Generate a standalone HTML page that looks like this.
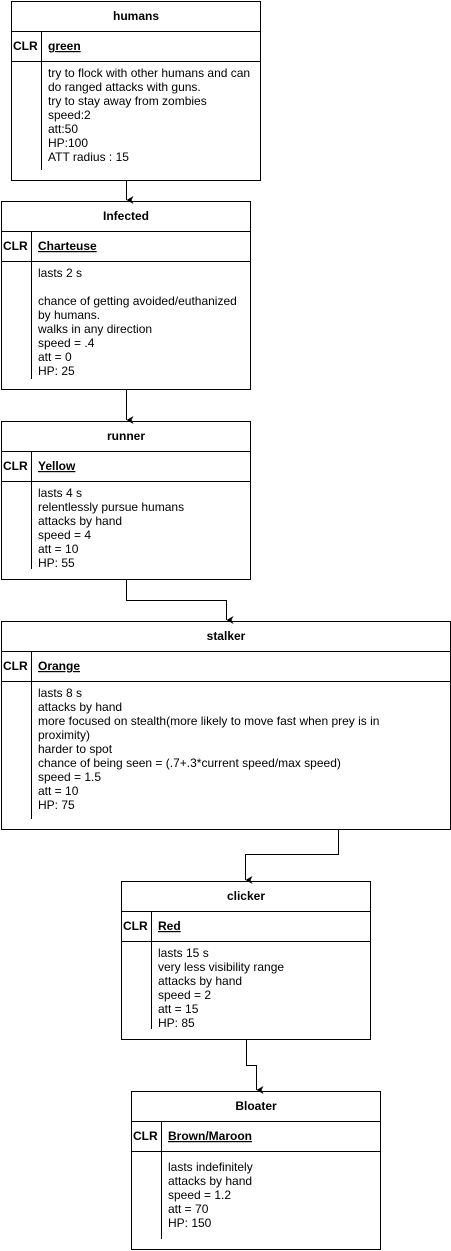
<!DOCTYPE html>
<html><head><meta charset="utf-8"><style>
html,body{margin:0;padding:0;background:#fff;}
svg{display:block;font-family:"Liberation Sans",Arial,sans-serif;font-size:12px;}
.h{font-weight:bold;text-anchor:middle;}
.b{font-weight:bold;}
.u{font-weight:bold;text-decoration:underline;}
</style></head><body>
<svg width="451" height="1251" viewBox="0 0 451 1251" xmlns="http://www.w3.org/2000/svg">
<defs><marker id="a" markerWidth="8" markerHeight="8" refX="4" refY="7" orient="auto" markerUnits="userSpaceOnUse"><path d="M0,0 L4,7 L8,0 L4,2 Z" fill="#000"/></marker></defs>
<g fill="none" stroke="#000" stroke-width="1">
<!-- humans -->
<rect x="11.5" y="1.5" width="249" height="179"/>
<line x1="11.5" y1="31.5" x2="260.5" y2="31.5"/><line x1="11.5" y1="61.5" x2="260.5" y2="61.5"/>
<line x1="41.5" y1="31.5" x2="41.5" y2="170"/>
<!-- infected -->
<rect x="1.5" y="201.5" width="249" height="188"/>
<line x1="1.5" y1="231.5" x2="250.5" y2="231.5"/><line x1="1.5" y1="261.5" x2="250.5" y2="261.5"/>
<line x1="31.5" y1="231.5" x2="31.5" y2="379"/>
<!-- runner -->
<rect x="1.5" y="421.5" width="249" height="158"/>
<line x1="1.5" y1="451.5" x2="250.5" y2="451.5"/><line x1="1.5" y1="481.5" x2="250.5" y2="481.5"/>
<line x1="31.5" y1="451.5" x2="31.5" y2="569"/>
<!-- stalker -->
<rect x="1.5" y="621.5" width="449" height="208"/>
<line x1="1.5" y1="651.5" x2="450.5" y2="651.5"/><line x1="1.5" y1="681.5" x2="450.5" y2="681.5"/>
<line x1="31.5" y1="651.5" x2="31.5" y2="819"/>
<!-- clicker -->
<rect x="121.5" y="881.5" width="249" height="158"/>
<line x1="121.5" y1="911.5" x2="370.5" y2="911.5"/><line x1="121.5" y1="941.5" x2="370.5" y2="941.5"/>
<line x1="151.5" y1="911.5" x2="151.5" y2="1029"/>
<!-- bloater -->
<rect x="131.5" y="1091.5" width="249" height="158"/>
<line x1="131.5" y1="1121.5" x2="380.5" y2="1121.5"/><line x1="131.5" y1="1151.5" x2="380.5" y2="1151.5"/>
<line x1="161.5" y1="1121.5" x2="161.5" y2="1239"/>
<!-- connectors -->
<path d="M126.5 181 V200" marker-end="url(#a)"/>
<path d="M126.5 390 V420" marker-end="url(#a)"/>
<path d="M126.5 580 V600.5 H226.5 V620" marker-end="url(#a)"/>
<path d="M338.5 830 V854.5 H245.5 V880" marker-end="url(#a)"/>
<path d="M246.5 1040 V1065.5 H256.5 V1090" marker-end="url(#a)"/>
</g>
<g fill="#000">
<text class="h" x="136" y="20">humans</text>
<text class="b" x="13" y="50">CLR</text><text class="u" x="48" y="50">green</text>
<text x="48" y="77">try to flock with other humans and can</text>
<text x="48" y="91">do ranged attacks with guns.</text>
<text x="48" y="105">try to stay away from zombies</text>
<text x="48" y="119">speed:2</text>
<text x="48" y="133">att:50</text>
<text x="48" y="147">HP:100</text>
<text x="48" y="161">ATT radius : 15</text>

<text class="h" x="126" y="220">Infected</text>
<text class="b" x="3" y="250">CLR</text><text class="u" x="38" y="250">Charteuse</text>
<text x="38" y="277">lasts 2 s</text>
<text x="38" y="305">chance of getting avoided/euthanized</text>
<text x="38" y="319">by humans.</text>
<text x="38" y="333">walks in any direction</text>
<text x="38" y="347">speed = .4</text>
<text x="38" y="361">att = 0</text>
<text x="38" y="375">HP: 25</text>

<text class="h" x="126" y="440">runner</text>
<text class="b" x="3" y="470">CLR</text><text class="u" x="38" y="470">Yellow</text>
<text x="38" y="497">lasts 4 s</text>
<text x="38" y="511">relentlessly pursue humans</text>
<text x="38" y="525">attacks by hand</text>
<text x="38" y="539">speed = 4</text>
<text x="38" y="553">att = 10</text>
<text x="38" y="567">HP: 55</text>

<text class="h" x="226" y="640">stalker</text>
<text class="b" x="3" y="670">CLR</text><text class="u" x="38" y="670">Orange</text>
<text x="38" y="697">lasts 8 s</text>
<text x="38" y="711">attacks by hand</text>
<text x="38" y="725">more focused on stealth(more likely to move fast when prey is in</text>
<text x="38" y="739">proximity)</text>
<text x="38" y="753">harder to spot</text>
<text x="38" y="767">chance of being seen = (.7+.3*current speed/max speed)</text>
<text x="38" y="781">speed = 1.5</text>
<text x="38" y="795">att = 10</text>
<text x="38" y="809">HP: 75</text>

<text class="h" x="246" y="900">clicker</text>
<text class="b" x="123" y="930">CLR</text><text class="u" x="158" y="930">Red</text>
<text x="158" y="957">lasts 15 s</text>
<text x="158" y="971">very less visibility range</text>
<text x="158" y="985">attacks by hand</text>
<text x="158" y="999">speed = 2</text>
<text x="158" y="1013">att = 15</text>
<text x="158" y="1027">HP: 85</text>

<text class="h" x="256" y="1110">Bloater</text>
<text class="b" x="133" y="1140">CLR</text><text class="u" x="168" y="1140">Brown/Maroon</text>
<text x="168" y="1171">lasts indefinitely</text>
<text x="168" y="1185">attacks by hand</text>
<text x="168" y="1199">speed = 1.2</text>
<text x="168" y="1213">att = 70</text>
<text x="168" y="1227">HP: 150</text>
</g>
</svg>
</body></html>
